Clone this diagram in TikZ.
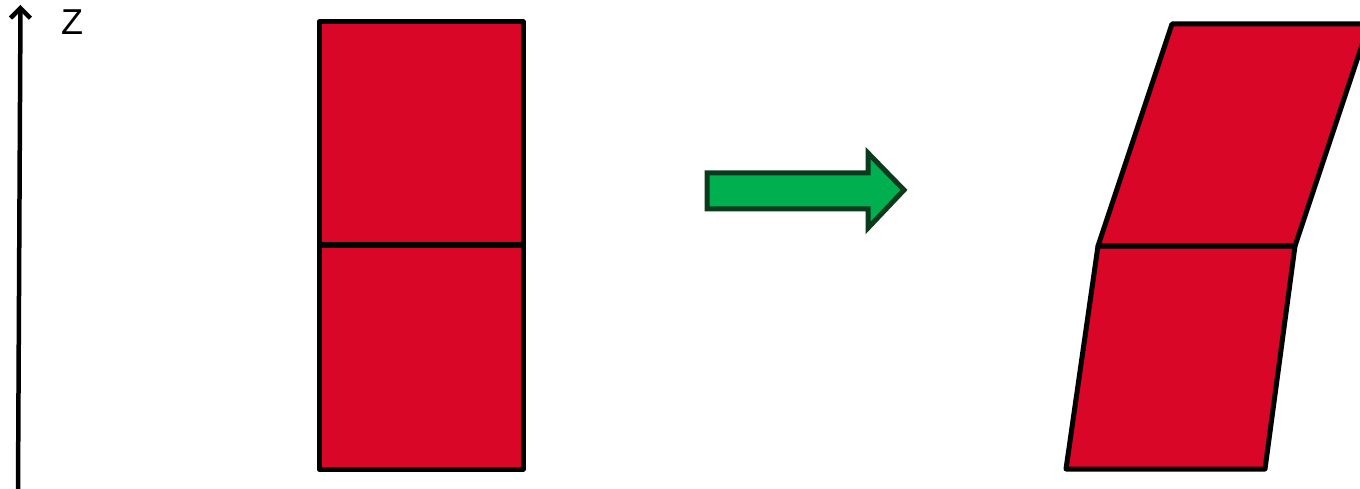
\documentclass[tikz,border=0pt]{standalone}
\usepackage{fontspec}
\setmainfont{Liberation Sans}
\usetikzlibrary{arrows.meta}
\definecolor{blockred}{HTML}{DA0628}
\definecolor{arrowgreen}{HTML}{00B050}
\definecolor{arrowedge}{HTML}{0B3A1D}
\tikzset{
  block/.style={fill=blockred, draw=black, line width=5pt, line join=round},
  bigarrow/.style={fill=arrowgreen, draw=arrowedge, line width=5pt, line join=miter},
}
\begin{document}
\begin{tikzpicture}[x=1pt,y=-1pt]
\useasboundingbox (0,0) rectangle (1360,489);
% axis
\coordinate (axb) at (18,490);
\coordinate (axt) at (20.5,5);
\draw[line width=4.5pt, -{Straight Barb[length=10pt,width=20pt,line width=4.5pt]}] (axb) -- (axt);
\node[font=\fontsize{36}{36}\selectfont, inner sep=0pt] (zlab) at (72,22) {Z};
% left column
\draw[block] (319,22) rectangle (523,245);
\draw[block] (319,245) rectangle (523,469);
% green arrow
\draw[bigarrow] (707,173) -- (868,173) -- (868,153) -- (904,190) -- (868,228) -- (868,209) -- (707,209) -- cycle;
% right sheared column
\draw[block] (1172,24) -- (1369,24) -- (1295,246) -- (1098,246) -- cycle;
\draw[block] (1098,246) -- (1295,246) -- (1265,469) -- (1066,469) -- cycle;
\end{tikzpicture}
\end{document}
